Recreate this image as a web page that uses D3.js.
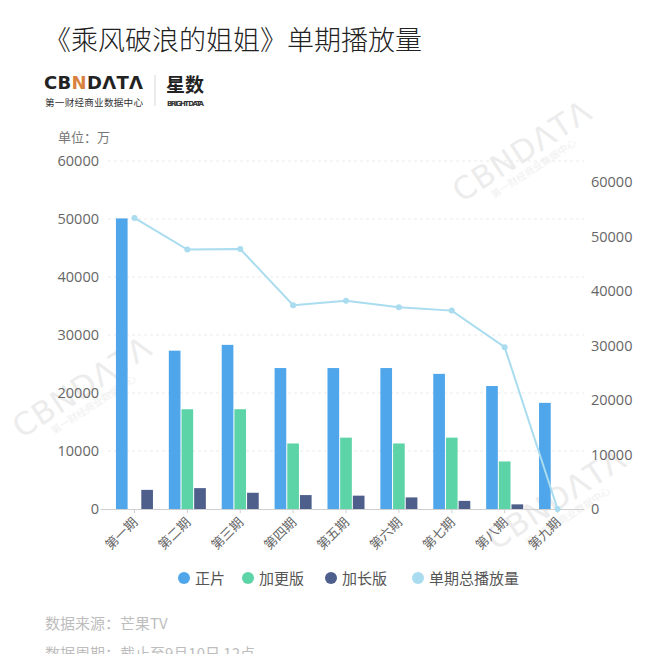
<!DOCTYPE html>
<html><head><meta charset="utf-8">
<script src="https://cdn.jsdelivr.net/npm/d3@7"></script>
<style>
html,body{margin:0;padding:0;background:#fff;}
svg{display:block;font-family:"Noto Sans CJK SC","Noto Sans",sans-serif;}
</style></head>
<body>
<svg id="c" width="660" height="654"></svg>
<script>
const categories = ["第一期","第二期","第三期","第四期","第五期","第六期","第七期","第八期","第九期"];
const zhengpian = [50100, 27300, 28300, 24300, 24300, 24300, 23300, 21200, 18300];
const jiageng   = [0, 17200, 17200, 11300, 12300, 11300, 12300, 8200, 0];
const jiachang  = [3300, 3600, 2800, 2400, 2300, 2000, 1400, 800, 0];
const total     = [53400, 47600, 47700, 37400, 38200, 37000, 36400, 29700, 0];
const leftTicks = [0, 10000, 20000, 30000, 40000, 50000, 60000];
const rightTicks = [0, 10000, 20000, 30000, 40000, 50000, 60000];
const seriesNames = ["正片", "加更版", "加长版", "单期总播放量"];
const colors = ["#4fa6ea", "#5dd3a8", "#4e5f8c", "#a9dcef"];

const svg = d3.select("#c");

// watermarks
function watermark(x, y, size) {
  const g = svg.append("g").attr("transform", `translate(${x},${y}) rotate(-33)`);
  g.append("text").attr("text-anchor", "middle").attr("font-family", "DejaVu Sans, sans-serif")
    .attr("font-size", size).attr("font-weight", 400).attr("fill", "#ececec").attr("letter-spacing", 1)
    .text("CBNDΛTΛ");
  g.append("text").attr("text-anchor", "middle").attr("y", size * 0.45)
    .attr("font-size", size * 0.32).attr("fill", "#efefef").text("第一财经商业数据中心");
}
watermark(528, 160, 31);
watermark(88, 396, 31);
watermark(562, 508, 31);

// title
svg.append("text").attr("x", 44).attr("y", 50).attr("font-size", 27).attr("font-weight", 300).attr("fill", "#222")
  .text("《乘风破浪的姐姐》单期播放量");

// logo
const logo = svg.append("text").attr("x", 44).attr("y", 89).attr("font-family", "DejaVu Sans, sans-serif")
  .attr("font-size", 18).attr("font-weight", 700).attr("fill", "#222").attr("letter-spacing", 0.3);
logo.append("tspan").text("CB");
logo.append("tspan").attr("fill", "#d9813f").text("N");
logo.append("tspan").text("DΛTΛ");
svg.append("text").attr("x", 45).attr("y", 106).attr("font-size", 9.6).attr("fill", "#333")
  .attr("textLength", 98).text("第一财经商业数据中心");
svg.append("line").attr("x1", 155).attr("x2", 155).attr("y1", 75).attr("y2", 106)
  .attr("stroke", "#d8d8d8").attr("stroke-width", 1);
svg.append("text").attr("x", 166).attr("y", 92).attr("font-size", 19).attr("font-weight", 700)
  .attr("fill", "#222").text("星数");
svg.append("text").attr("x", 167).attr("y", 106).attr("font-family", "DejaVu Sans, sans-serif")
  .attr("font-size", 7).attr("font-weight", 700).attr("fill", "#333").attr("textLength", 37).text("BRIGHT DATA");

// unit
svg.append("text").attr("x", 58).attr("y", 142).attr("font-size", 13).attr("fill", "#777").text("单位：万");

// scales
const x0 = d3.scaleBand().domain(categories).range([108, 584]).paddingInner(0.3).paddingOuter(0.15);
const x1 = d3.scaleBand().domain([0, 1, 2]).range([0, x0.bandwidth()]).paddingInner(0.08);
const yL = d3.scaleLinear().domain([0, 60000]).range([509, 161]);
const yR = d3.scaleLinear().domain([0, 60000]).range([509, 182]);

// gridlines
svg.append("g").selectAll("line").data(leftTicks.filter(d => d > 0)).join("line")
  .attr("x1", 108).attr("x2", 584).attr("y1", d => yL(d)).attr("y2", d => yL(d))
  .attr("stroke", "#ebebeb").attr("stroke-dasharray", "3,3").attr("stroke-width", 1);

// left axis
const axL = svg.append("g").attr("transform", "translate(99,0)")
  .call(d3.axisLeft(yL).tickValues(leftTicks).tickSize(0).tickPadding(0).tickFormat(d3.format("d")));
axL.select(".domain").remove();
axL.selectAll("text").attr("font-family", "Open Sans, Noto Sans, sans-serif").attr("font-size", 14.5).attr("fill", "#666");

// right axis
const axR = svg.append("g").attr("transform", "translate(591,0)")
  .call(d3.axisRight(yR).tickValues(rightTicks).tickSize(0).tickPadding(0).tickFormat(d3.format("d")));
axR.select(".domain").remove();
axR.selectAll("text").attr("font-family", "Open Sans, Noto Sans, sans-serif").attr("font-size", 14.5).attr("fill", "#666");

// bars
const seriesData = [zhengpian, jiageng, jiachang];
seriesData.forEach((vals, si) => {
  svg.append("g").selectAll("rect").data(vals).join("rect")
    .attr("x", (d, i) => x0(categories[i]) + x1(si))
    .attr("width", x1.bandwidth())
    .attr("y", d => yL(d))
    .attr("height", d => yL(0) - yL(d))
    .attr("fill", colors[si]);
});

// baseline
const axB = svg.append("g").attr("transform", `translate(0,${yL(0)})`)
  .call(d3.axisBottom(x0).tickSize(4).tickSizeOuter(0).tickFormat(""));
axB.select(".domain").attr("stroke", "#cfcfcf").attr("d", "M100.5,0.5H584");
axB.selectAll(".tick line").attr("stroke", "#cfcfcf");

// x labels
svg.append("g").selectAll("text").data(categories).join("text")
  .attr("transform", d => `translate(${x0(d) + x0.bandwidth() / 2 + 4},${yL(0) + 14}) rotate(-45)`)
  .attr("text-anchor", "end").attr("font-size", 13).attr("fill", "#666").text(d => d);

// line
const line = d3.line().x((d, i) => x0(categories[i]) + x0.bandwidth() / 2).y(d => yR(d));
svg.append("path").datum(total).attr("d", line).attr("fill", "none")
  .attr("stroke", colors[3]).attr("stroke-width", 2);
svg.append("g").selectAll("circle").data(total).join("circle")
  .attr("cx", (d, i) => x0(categories[i]) + x0.bandwidth() / 2).attr("cy", d => yR(d))
  .attr("r", 3).attr("fill", colors[3]);

// legend
const legX = [184, 248, 331, 418];
const leg = svg.append("g").selectAll("g").data(seriesNames).join("g")
  .attr("transform", (d, i) => `translate(${legX[i]},578)`);
leg.append("circle").attr("r", 6).attr("fill", (d, i) => colors[i]);
leg.append("text").attr("x", 11).attr("y", 5.5).attr("font-size", 15).attr("fill", "#555").text(d => d);

// footer
svg.append("text").attr("x", 45).attr("y", 629).attr("font-size", 15).attr("fill", "#bdbdbd").text("数据来源：芒果TV");
svg.append("text").attr("x", 45).attr("y", 659).attr("font-size", 15).attr("fill", "#bdbdbd").text("数据周期：截止至9月10日 12点");
</script>
</body></html>
